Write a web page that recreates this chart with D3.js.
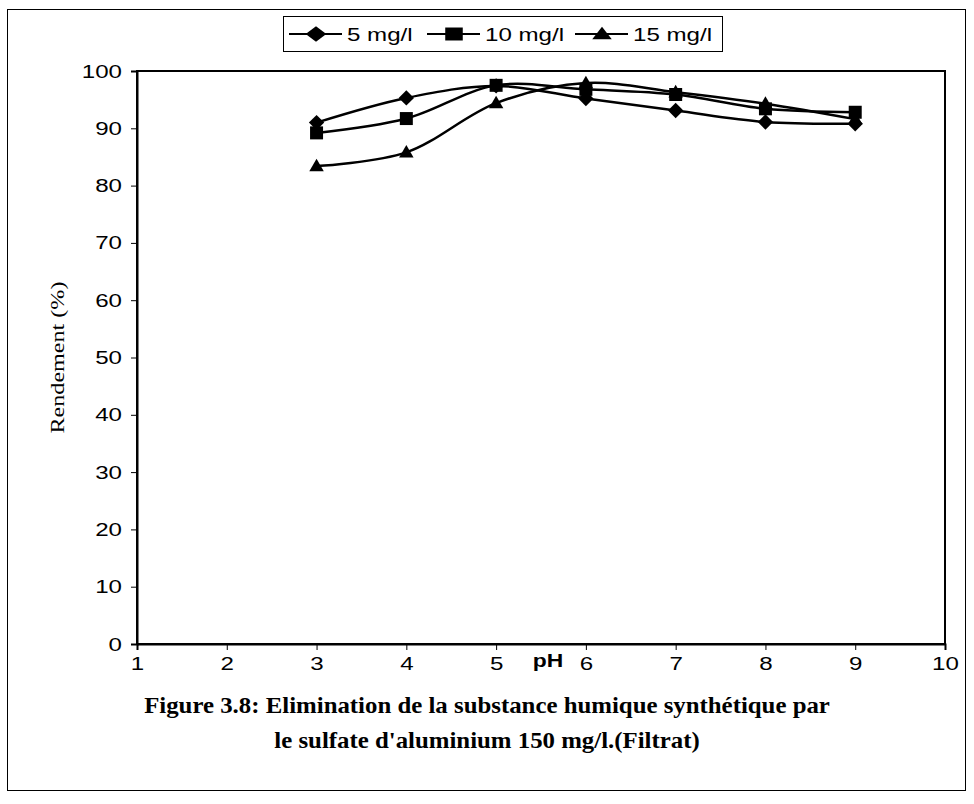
<!DOCTYPE html>
<html>
<head>
<meta charset="utf-8">
<script src="https://cdnjs.cloudflare.com/ajax/libs/d3/7.8.5/d3.min.js"></script>
<style>
    body { margin: 0; background: #fff; }
    .tick text { font-family: "Liberation Sans", Arial, sans-serif; font-size: 19px; fill: #000; }
    .axis path, .axis line { stroke: #000; }
</style>
</head>
<body>
<svg id="chart" width="974" height="804"></svg>
<script>
// data
let pH = [3, 4, 5, 6, 7, 8, 9]
let rend5 = [91, 95.3, 97.4, 95.2, 93.1, 91.1, 90.8]
let rend10 = [89.2, 91.7, 97.5, 96.8, 95.9, 93.4, 92.8]
let rend15 = [83.4, 85.8, 94.4, 97.9, 96.3, 94.3, 91.6]
let seriesNames = ["5 mg/l", "10 mg/l", "15 mg/l"]
let xTicks = [1, 2, 3, 4, 5, 6, 7, 8, 9, 10]
let yTicks = [0, 10, 20, 30, 40, 50, 60, 70, 80, 90, 100]

let svg = d3.select("#chart")
let plotLeft = 137, plotRight = 945, plotTop = 71, plotBottom = 644
let stretch = 1.27 // the original's text is drawn wide

let xScale = d3.scaleLinear().domain([1, 10]).range([plotLeft, plotRight])
let yScale = d3.scaleLinear().domain([0, 100]).range([plotBottom, plotTop])

// outer frame
svg.append("rect")
    .attr("x", 7.5).attr("y", 9.5)
    .attr("width", 958).attr("height", 781)
    .attr("fill", "none").attr("stroke", "#000").attr("stroke-width", 1)

// plot box
svg.append("rect")
    .attr("x", plotLeft).attr("y", plotTop)
    .attr("width", plotRight - plotLeft).attr("height", plotBottom - plotTop)
    .attr("fill", "none").attr("stroke", "#000").attr("stroke-width", 2)

// axes
svg.append("g").attr("class", "axis")
    .attr("transform", `translate(0,${plotBottom})`)
    .call(d3.axisBottom(xScale).tickValues(xTicks).tickSize(6).tickPadding(7).tickFormat(d3.format("d")))
    .call(g => g.select(".domain").attr("stroke-width", 2))
    .call(g => g.selectAll(".tick text").attr("transform", `scale(${stretch},1)`))

svg.append("g").attr("class", "axis")
    .attr("transform", `translate(${plotLeft},0)`)
    .call(d3.axisLeft(yScale).tickValues(yTicks).tickSize(6).tickPadding(8))
    .call(g => g.select(".domain").attr("stroke-width", 2))
    .call(g => g.selectAll(".tick text").attr("x", -15 / stretch).attr("transform", `scale(${stretch},1)`))

// axis titles
svg.append("text")
    .attr("transform", `translate(57,${(plotTop + plotBottom) / 2}) rotate(-90) scale(${stretch},1)`)
    .attr("text-anchor", "middle")
    .attr("dy", "0.35em")
    .style("font-family", "'Liberation Serif', 'Times New Roman', serif")
    .style("font-size", "19px")
    .text("Rendement (%)")

svg.append("text")
    .attr("transform", `translate(548,667) scale(${stretch},1)`)
    .attr("text-anchor", "middle")
    .style("font-family", "'Liberation Sans', Arial, sans-serif")
    .style("font-size", "18px").style("font-weight", "bold")
    .text("pH")

// lines
let series = [rend5, rend10, rend15]
let symbols = [d3.symbolDiamond2, d3.symbolSquare2, d3.symbolTriangle2]
let symSize = [150, 215, 150]

let line = d3.line()
    .x((d, i) => xScale(pH[i]))
    .y(d => yScale(d))
    .curve(d3.curveCatmullRom.alpha(0.5))

series.forEach(function (s, k) {
    svg.append("path")
        .datum(s)
        .attr("d", line)
        .attr("fill", "none")
        .attr("stroke", "#000")
        .attr("stroke-width", 2.5)
})

series.forEach(function (s, k) {
    svg.selectAll(".m" + k)
        .data(s)
        .enter()
        .append("path")
        .attr("class", "m" + k)
        .attr("transform", (d, i) => `translate(${xScale(pH[i])},${yScale(d) + (k == 2 ? 1 : 0)})`)
        .attr("d", d3.symbol().type(symbols[k]).size(symSize[k]))
        .attr("fill", "#000")
})

// legend
let legend = svg.append("g")
legend.append("rect")
    .attr("x", 283.5).attr("y", 16.5)
    .attr("width", 439).attr("height", 35)
    .attr("fill", "#fff").attr("stroke", "#000").attr("stroke-width", 1)

let legX = [289, 427, 575]
seriesNames.forEach(function (name, k) {
    legend.append("line")
        .attr("x1", legX[k]).attr("x2", legX[k] + 53)
        .attr("y1", 34).attr("y2", 34)
        .attr("stroke", "#000").attr("stroke-width", 2)
    legend.append("path")
        .attr("transform", `translate(${legX[k] + 27},${34 + (k == 2 ? 1 : 0)}) scale(1.35,1)`)
        .attr("d", d3.symbol().type(symbols[k]).size(symSize[k]))
        .attr("fill", "#000")
    legend.append("text")
        .attr("transform", `translate(${legX[k] + 58},34) scale(${stretch},1)`)
        .attr("dy", "0.35em")
        .style("font-family", "'Liberation Sans', Arial, sans-serif")
        .style("font-size", "19px")
        .text(name)
})

// caption
let caption = ["Figure 3.8: Elimination de la substance humique synthétique par",
    "le sulfate d'aluminium 150 mg/l.(Filtrat)"]
svg.selectAll(".caption")
    .data(caption)
    .enter()
    .append("text")
    .attr("class", "caption")
    .attr("transform", (d, i) => `translate(487,${713 + i * 35}) scale(1.08,1)`)
    .attr("text-anchor", "middle")
    .style("font-family", "'Liberation Serif', 'Times New Roman', serif")
    .style("font-size", "23px").style("font-weight", "bold")
    .text(d => d)
</script>
</body>
</html>
